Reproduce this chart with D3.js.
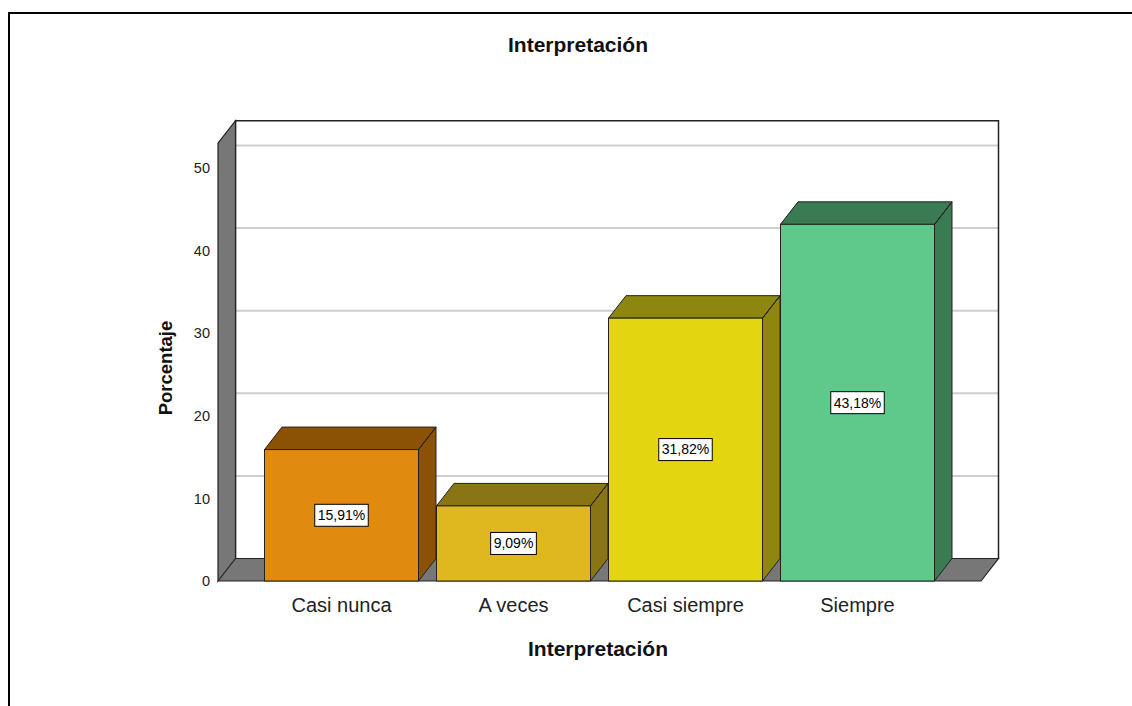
<!DOCTYPE html>
<html>
<head>
<meta charset="utf-8">
<script src="https://cdn.jsdelivr.net/npm/d3@7"></script>
<style>
  html, body { margin: 0; padding: 0; background: #fff; }
  svg { display: block; font-family: "Liberation Sans", Arial, sans-serif; }
</style>
</head>
<body>
<svg id="chart" width="1132" height="706"></svg>
<script>
const categories = ["Casi nunca", "A veces", "Casi siempre", "Siempre"];
const values = [15.91, 9.09, 31.82, 43.18];
const valueLabels = ["15,91%", "9,09%", "31,82%", "43,18%"];
const frontColors = ["#E08B10", "#DFB81F", "#E3D610", "#5EC98B"];
const darkColors = ["#8B5206", "#8A7515", "#8E870F", "#3B7B53"];
const yTicks = [0, 10, 20, 30, 40, 50];
const titleText = "Interpretación";
const xTitleText = "Interpretación";
const yTitleText = "Porcentaje";

const svg = d3.select("#chart");
const W = 1132, H = 706;

// frame
svg.append("path").attr("d", `M9,${H} L9,13 L${W},13`)
  .attr("fill", "none").attr("stroke", "#000").attr("stroke-width", 2);

const x0 = 218, x1 = 981;
const y = d3.scaleLinear().domain([0, 50]).range([581, 168]);
const x = d3.scaleBand().domain(categories).range([x0, x1])
  .paddingInner(18 / 172).paddingOuter(0.2703);
const dx = 17.5, dy = -22.5;
const yTop = y(53);
const yBase = y(0);

// back wall
svg.append("rect").attr("x", x0 + dx).attr("y", yTop + dy)
  .attr("width", x1 - x0).attr("height", yBase - yTop)
  .attr("fill", "#fff").attr("stroke", "none");

// gridlines on back wall
const grid = svg.append("g");
grid.selectAll("line.h").data(yTicks.slice(1)).join("line")
  .attr("x1", x0 + dx).attr("x2", x1 + dx)
  .attr("y1", d => y(d) + dy).attr("y2", d => y(d) + dy)
  .attr("stroke", "#cfcfcf").attr("stroke-width", 2);

// back wall border
svg.append("path")
  .attr("d", `M${x0 + dx},${yBase + dy} L${x0 + dx},${yTop + dy} L${x1 + dx},${yTop + dy} L${x1 + dx},${yBase + dy}`)
  .attr("fill", "none").attr("stroke", "#222").attr("stroke-width", 1.5);

// left wall
svg.append("polygon")
  .attr("points", [[x0, yTop], [x0 + dx, yTop + dy], [x0 + dx, yBase + dy], [x0, yBase]].map(p => p.join(",")).join(" "))
  .attr("fill", "#777").attr("stroke", "#222").attr("stroke-width", 1.2);

// gridlines on left wall
grid.selectAll("line.w").data(yTicks.slice(1)).join("line")
  .attr("x1", x0).attr("x2", x0 + dx)
  .attr("y1", d => y(d)).attr("y2", d => y(d) + dy)
  .attr("stroke", "#cfcfcf").attr("stroke-width", 1.5);
svg.append("line").attr("x1", x0).attr("x2", x0 + dx).attr("y1", yBase).attr("y2", yBase + dy)
  .attr("stroke", "#cfcfcf").attr("stroke-width", 1);

// floor
svg.append("polygon")
  .attr("points", [[x0, yBase], [x0 + dx, yBase + dy], [x1 + dx, yBase + dy], [x1, yBase]].map(p => p.join(",")).join(" "))
  .attr("fill", "#777").attr("stroke", "#222").attr("stroke-width", 1.2);

// bars
const bars = svg.append("g").selectAll("g").data(categories).join("g");
const bw = x.bandwidth();
bars.each(function (c, i) {
  const g = d3.select(this);
  const bx = x(c), yv = y(values[i]);
  g.append("polygon")
    .attr("points", [[bx + bw, yv], [bx + bw + dx, yv + dy], [bx + bw + dx, yBase + dy], [bx + bw, yBase]].map(p => p.join(",")).join(" "))
    .attr("fill", darkColors[i]).attr("stroke", "#222").attr("stroke-width", 1);
  g.append("polygon")
    .attr("points", [[bx, yv], [bx + dx, yv + dy], [bx + bw + dx, yv + dy], [bx + bw, yv]].map(p => p.join(",")).join(" "))
    .attr("fill", darkColors[i]).attr("stroke", "#222").attr("stroke-width", 1);
  g.append("rect").attr("x", bx).attr("y", yv).attr("width", bw).attr("height", yBase - yv)
    .attr("fill", frontColors[i]).attr("stroke", "#222").attr("stroke-width", 1);
  g.append("line").attr("x1", bx + bw).attr("x2", bx + bw + dx).attr("y1", yv).attr("y2", yv + dy)
    .attr("stroke", "#222").attr("stroke-width", 1);

  // value label
  const cx = bx + bw / 2, cy = y(values[i] / 2);
  const t = g.append("text").attr("x", cx).attr("y", cy).attr("dy", "0.35em")
    .attr("text-anchor", "middle").attr("font-size", 14).attr("fill", "#000")
    .text(valueLabels[i]);
  const bb = t.node().getBBox();
  g.insert("rect", "text")
    .attr("x", bb.x - 3).attr("y", cy - 11).attr("width", bb.width + 6).attr("height", 22)
    .attr("fill", "#fff").attr("stroke", "#000").attr("stroke-width", 1);
});

// y tick labels
svg.append("g").selectAll("text").data(yTicks).join("text")
  .attr("x", 210).attr("y", d => y(d)).attr("dy", "0.36em")
  .attr("text-anchor", "end").attr("font-size", 14.5).attr("fill", "#222")
  .text(d => d);

// category labels
svg.append("g").selectAll("text").data(categories).join("text")
  .attr("x", d => x(d) + bw / 2).attr("y", 612)
  .attr("text-anchor", "middle").attr("font-size", 20).attr("fill", "#222")
  .text(d => d);

// titles
svg.append("text").attr("x", 578).attr("y", 52).attr("text-anchor", "middle")
  .attr("font-size", 21).attr("font-weight", "bold").attr("fill", "#111").text(titleText);
svg.append("text").attr("x", 598).attr("y", 656).attr("text-anchor", "middle")
  .attr("font-size", 21).attr("font-weight", "bold").attr("fill", "#111").text(xTitleText);
svg.append("text").attr("transform", "translate(172,368) rotate(-90)").attr("text-anchor", "middle")
  .attr("font-size", 18.5).attr("font-weight", "bold").attr("fill", "#111").text(yTitleText);
</script>
</body>
</html>
